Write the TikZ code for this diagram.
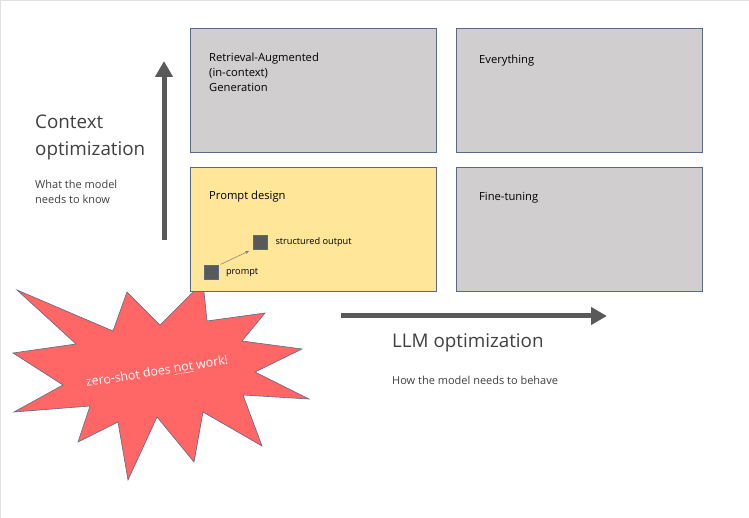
\documentclass[tikz,border=0pt]{standalone}
\usepackage{fontspec}
\setmainfont{Open Sans}
\usetikzlibrary{arrows.meta}
\usetikzlibrary{positioning}

\definecolor{boxgray}{HTML}{D0CECE}
\definecolor{boxyellow}{HTML}{FFE699}
\definecolor{boxline}{HTML}{5A6A85}
\definecolor{axisgray}{HTML}{595959}
\definecolor{burstred}{HTML}{FF6666}
\definecolor{textgray}{HTML}{404040}

\tikzset{
  quadbox/.style={draw=boxline, line width=1pt, minimum width=246pt, minimum height=124pt, anchor=north west, inner sep=0pt},
  quadlabel/.style={anchor=north west, align=left, inner sep=0pt, font=\fontsize{11.2}{15}\selectfont},
  axisarrow/.style={draw=axisgray, line width=5pt, -{Triangle[width=17pt,length=16pt]}},
  bigtitle/.style={anchor=west, align=left, inner sep=0pt, text=textgray, font=\fontsize{18.8}{27}\selectfont},
  subtitle/.style={anchor=west, align=left, inner sep=0pt, text=textgray, font=\fontsize{11}{15}\selectfont},
  smallsq/.style={draw=boxline, fill=axisgray, minimum size=14pt, inner sep=0pt, line width=0.6pt},
  smalllabel/.style={anchor=west, inner sep=0pt, font=\fontsize{9.2}{10}\selectfont}
}

\begin{document}
\begin{tikzpicture}[x=1pt, y=-1pt]
\useasboundingbox (0,0) rectangle (749,518);
\draw[black!12, line width=1pt] (0.5,518) -- (0.5,0.5) -- (749,0.5);

% the burst
\filldraw[fill=burstred, draw=boxline, line width=0.6pt]
  (17,290) -- (113,331) -- (127,292) -- (160,325) -- (203,282) -- (207,321)
  -- (265,313) -- (242,341) -- (302,349) -- (255,372) -- (309,399) -- (243,395)
  -- (262,446) -- (203,412) -- (194,462) -- (157,417) -- (128,480) -- (118,422)
  -- (78,442) -- (90,406) -- (14,412) -- (63,385) -- (13,353) -- (76,344) -- cycle;
\node[rotate=9, text=white, font=\fontsize{12.4}{14}\selectfont] (zeroshot) at (157,372) {zero-shot does \underline{not} work!};

% quadrants
\node[quadbox, fill=boxgray] (rag) at (190,28) {};
\node[quadbox, fill=boxgray] (everything) at (456,28) {};
\node[quadbox, fill=boxyellow] (prompting) at (190,167) {};
\node[quadbox, fill=boxgray] (finetuning) at (456,167) {};

\node[quadlabel] (raglabel) at (209,53) {Retrieval-Augmented\\(in-context)\\Generation};
\node[quadlabel] (everythinglabel) at (479,55) {Everything};
\node[quadlabel] (promptlabel) at (209,191) {Prompt design};
\node[quadlabel] (finetuninglabel) at (479,192) {Fine-tuning};

% inside prompt design
\node[smallsq] (prompt) at (211.5,272.5) {};
\node[smallsq] (output) at (260,242) {};
\draw[axisgray!80, line width=0.5pt, -{Stealth[length=4pt,width=3pt]}, shorten <=2pt, shorten >=4pt] (prompt.north east) -- (output.south west);
\node[smalllabel, right=7pt of prompt] (promptlabel2) {prompt};
\node[smalllabel, right=8pt of output] (outputlabel) {structured output};

% axes
\coordinate (ybottom) at (164,240);
\coordinate (ytop) at (164,61);
\coordinate (xleft) at (341,316);
\coordinate (xright) at (607,316);
\draw[axisarrow] (ybottom) -- (ytop);
\draw[axisarrow] (xleft) -- (xright);

\node[bigtitle] (contexttitle) at (35,137) {Context\\optimization};
\node[subtitle] (contextsub) at (35,192) {What the model\\needs to know};
\node[bigtitle] (llmtitle) at (392,343) {LLM optimization};
\node[subtitle] (llmsub) at (392,380) {How the model needs to behave};
\end{tikzpicture}
\end{document}
